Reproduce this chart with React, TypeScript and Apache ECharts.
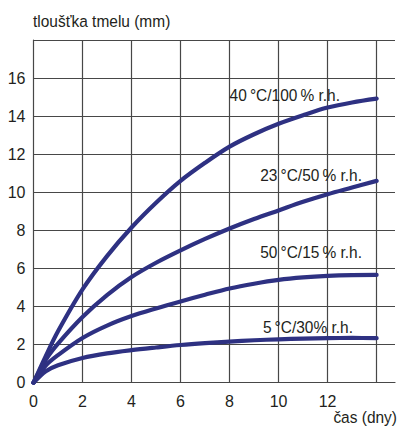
import React, { useEffect, useRef } from "react";
import * as echarts from "echarts";

// Time in days
const days = [0, 0.5, 1, 2, 3, 4, 5, 6, 7, 8, 9, 10, 11, 12, 13, 14];

// Sealant thickness (mm) for each curing condition
const s40c100 = [0, 1.4, 2.7, 4.9, 6.65, 8.15, 9.45, 10.6, 11.55, 12.4, 13.05, 13.6, 14.05, 14.45, 14.72, 14.92];
const s23c50 = [0, 1.2, 2.05, 3.45, 4.6, 5.55, 6.3, 6.95, 7.55, 8.1, 8.6, 9.05, 9.5, 9.9, 10.25, 10.6];
const s50c15 = [0, 0.9, 1.45, 2.35, 3.0, 3.5, 3.9, 4.27, 4.62, 4.95, 5.2, 5.4, 5.53, 5.61, 5.65, 5.66];
const s5c30 = [0, 0.6, 0.92, 1.3, 1.54, 1.71, 1.85, 1.98, 2.08, 2.16, 2.23, 2.28, 2.32, 2.34, 2.35, 2.34];

const seriesNames = ["40 °C/100 % r.h.", "23 °C/50 % r.h.", "50 °C/15 % r.h.", "5 °C/30% r.h."];
const seriesValues = [s40c100, s23c50, s50c15, s5c30];

const yTitle = "tloušťka tmelu (mm)";
const xTitle = "čas (dny)";

const FONT = "'Liberation Sans', Arial, sans-serif";
const LINE = "#2e3182";
const GRID = "#474747";
const TEXT = "#231f20";
const NARROW = 0.91;

// label placement (right edge x, vertical centre y)
const labelPos: [number, number][] = [
  [340, 95],
  [362, 175],
  [362, 252],
  [353, 327],
];

export default function App() {
  const ref = useRef<HTMLDivElement>(null);

  useEffect(() => {
    if (!ref.current) return;
    const chart = echarts.init(ref.current, null, { renderer: "svg" });
    chart.setOption({
      animation: false,
      backgroundColor: "#ffffff",
      textStyle: { fontFamily: FONT },
      grid: { left: 33.5, top: 40, width: 363.5, bottom: 46.3, containLabel: false },
      xAxis: {
        type: "value",
        min: 0,
        max: 14.75,
        interval: 2,
        axisLine: { show: true, lineStyle: { color: GRID, width: 1.2 } },
        axisTick: { show: false },
        axisLabel: {
          color: TEXT,
          fontSize: 16,
          fontFamily: FONT,
          margin: 11,
          formatter: (v: number) => (v <= 12 && Number.isInteger(v) ? String(v) : ""),
        },
        splitLine: { show: true, showMinLine: false, showMaxLine: false, lineStyle: { color: GRID, width: 1.2 } },
      },
      yAxis: {
        type: "value",
        min: 0,
        max: 18,
        interval: 2,
        axisLine: { show: true, lineStyle: { color: GRID, width: 1.2 } },
        axisTick: { show: false },
        axisLabel: {
          color: TEXT,
          fontSize: 16,
          fontFamily: FONT,
          margin: 8,
          showMaxLabel: false,
        },
        splitLine: { show: true, showMinLine: false, lineStyle: { color: GRID, width: 1.2 } },
      },
      series: seriesValues.map((vals, i) => ({
        type: "line",
        name: seriesNames[i],
        data: days.map((d, j) => [d, vals[j]]),
        smooth: 0.33,
        showSymbol: false,
        lineStyle: { color: LINE, width: 4.2, cap: "round", join: "round" },
        z: 3,
      })),
      graphic: [
        {
          type: "text",
          x: 33,
          y: 21,
          scaleX: NARROW,
          style: { text: yTitle, fontSize: 17, fontFamily: FONT, fill: TEXT, verticalAlign: "middle" },
        },
        {
          type: "text",
          x: 397,
          y: 417,
          scaleX: NARROW,
          style: { text: xTitle, fontSize: 17, fontFamily: FONT, fill: TEXT, align: "right", verticalAlign: "middle" },
        },
        ...seriesNames.map((name, i) => ({
          type: "text",
          x: labelPos[i][0],
          y: labelPos[i][1],
          scaleX: NARROW,
          z: 10,
          style: {
            text: name.replace(/ (°|%)/g, "\u2009$1"),
            fontSize: 17,
            fontFamily: FONT,
            fill: TEXT,
            align: "right",
            verticalAlign: "middle",
          },
        })),
      ],
    });
    return () => chart.dispose();
  }, []);

  return (
    <div
      ref={ref}
      style={{ position: "fixed", left: 0, top: 0, width: 398, height: 429, background: "#fff" }}
    />
  );
}
